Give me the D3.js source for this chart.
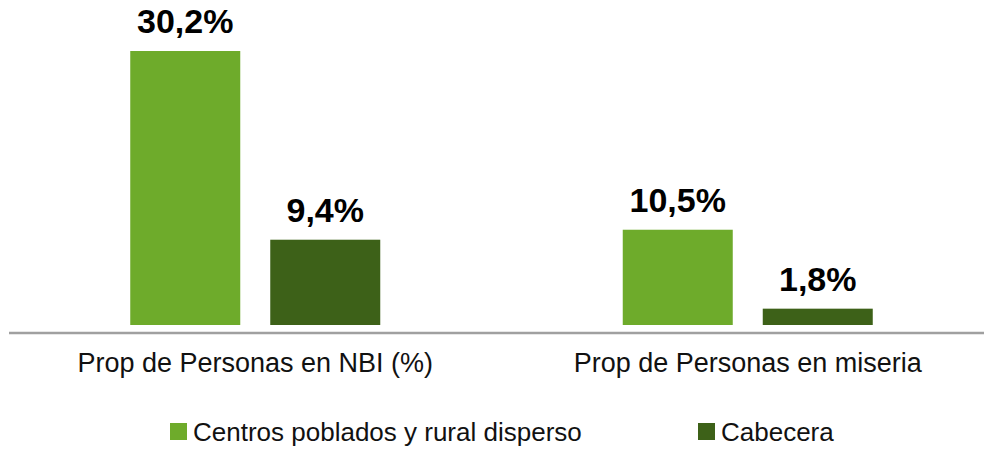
<!DOCTYPE html>
<html>
<head>
<meta charset="utf-8">
<script src="https://cdn.jsdelivr.net/npm/d3@7"></script>
<style>
  html, body { margin: 0; padding: 0; background: #fff; }
  svg { display: block; font-family: "Liberation Sans", Arial, Helvetica, sans-serif; }
</style>
</head>
<body>
<svg id="chart" width="984" height="449"></svg>
<script>
const categories = ["Prop de Personas en NBI (%)", "Prop de Personas en miseria"];
const seriesNames = ["Centros poblados y rural disperso", "Cabecera"];
const centrosValues = [30.2, 10.5];
const cabeceraValues = [9.4, 1.8];
const colors = ["#6eab2b", "#3d6118"];

const data = categories.map((c, i) => ({
  category: c,
  values: [
    { series: seriesNames[0], value: centrosValues[i] },
    { series: seriesNames[1], value: cabeceraValues[i] }
  ]
}));

const svg = d3.select("#chart");
const baseline = 325;

const x0 = d3.scaleBand().domain(categories).range([9, 994]).paddingInner(0).paddingOuter(0);
const x1 = d3.scaleBand().domain(seriesNames).range([-125, 125]).paddingInner(30 / 140).paddingOuter(0);
const y = d3.scaleLinear().domain([0, 30.2]).range([baseline, 51]);
const color = d3.scaleOrdinal().domain(seriesNames).range(colors);

const fmt = v => d3.format(".1f")(v).replace(".", ",") + "%";

const groups = svg.selectAll("g.grp").data(data).join("g")
  .attr("class", "grp")
  .attr("transform", d => `translate(${x0(d.category) + x0.bandwidth() / 2},0)`);

groups.selectAll("rect").data(d => d.values).join("rect")
  .attr("x", d => x1(d.series))
  .attr("width", x1.bandwidth())
  .attr("y", d => y(d.value))
  .attr("height", d => baseline - y(d.value))
  .attr("fill", d => color(d.series));

groups.selectAll("text.val").data(d => d.values).join("text")
  .attr("class", "val")
  .attr("x", d => x1(d.series) + x1.bandwidth() / 2)
  .attr("y", d => y(d.value) - 18)
  .attr("text-anchor", "middle")
  .attr("font-size", 34)
  .attr("font-weight", "bold")
  .attr("fill", "#000")
  .text(d => fmt(d.value));

// axis line
const xAxis = d3.axisBottom(x0).tickSize(0).tickPadding(0);
const axisG = svg.append("g").attr("transform", `translate(0,${baseline + 8})`).call(xAxis);
axisG.select(".domain").remove();
axisG.append("line").attr("x1", 9).attr("x2", 984).attr("y1", 0).attr("y2", 0)
  .attr("stroke", "#a0a0a0").attr("stroke-width", 2.5);
axisG.selectAll(".tick text")
  .attr("y", 39).attr("dy", 0)
  .attr("font-size", 27)
  .attr("font-family", "Liberation Sans, Arial, sans-serif")
  .attr("fill", "#111");

// legend
const legendX = [170, 698];
const legend = svg.selectAll("g.leg").data(seriesNames).join("g")
  .attr("class", "leg")
  .attr("transform", (d, i) => `translate(${legendX[i]},0)`);
legend.append("rect").attr("x", 0).attr("y", 423).attr("width", 17).attr("height", 17)
  .attr("fill", d => color(d));
legend.append("text").attr("x", 23).attr("y", 441)
  .attr("font-size", 26).attr("fill", "#111").text(d => d);
</script>
</body>
</html>
